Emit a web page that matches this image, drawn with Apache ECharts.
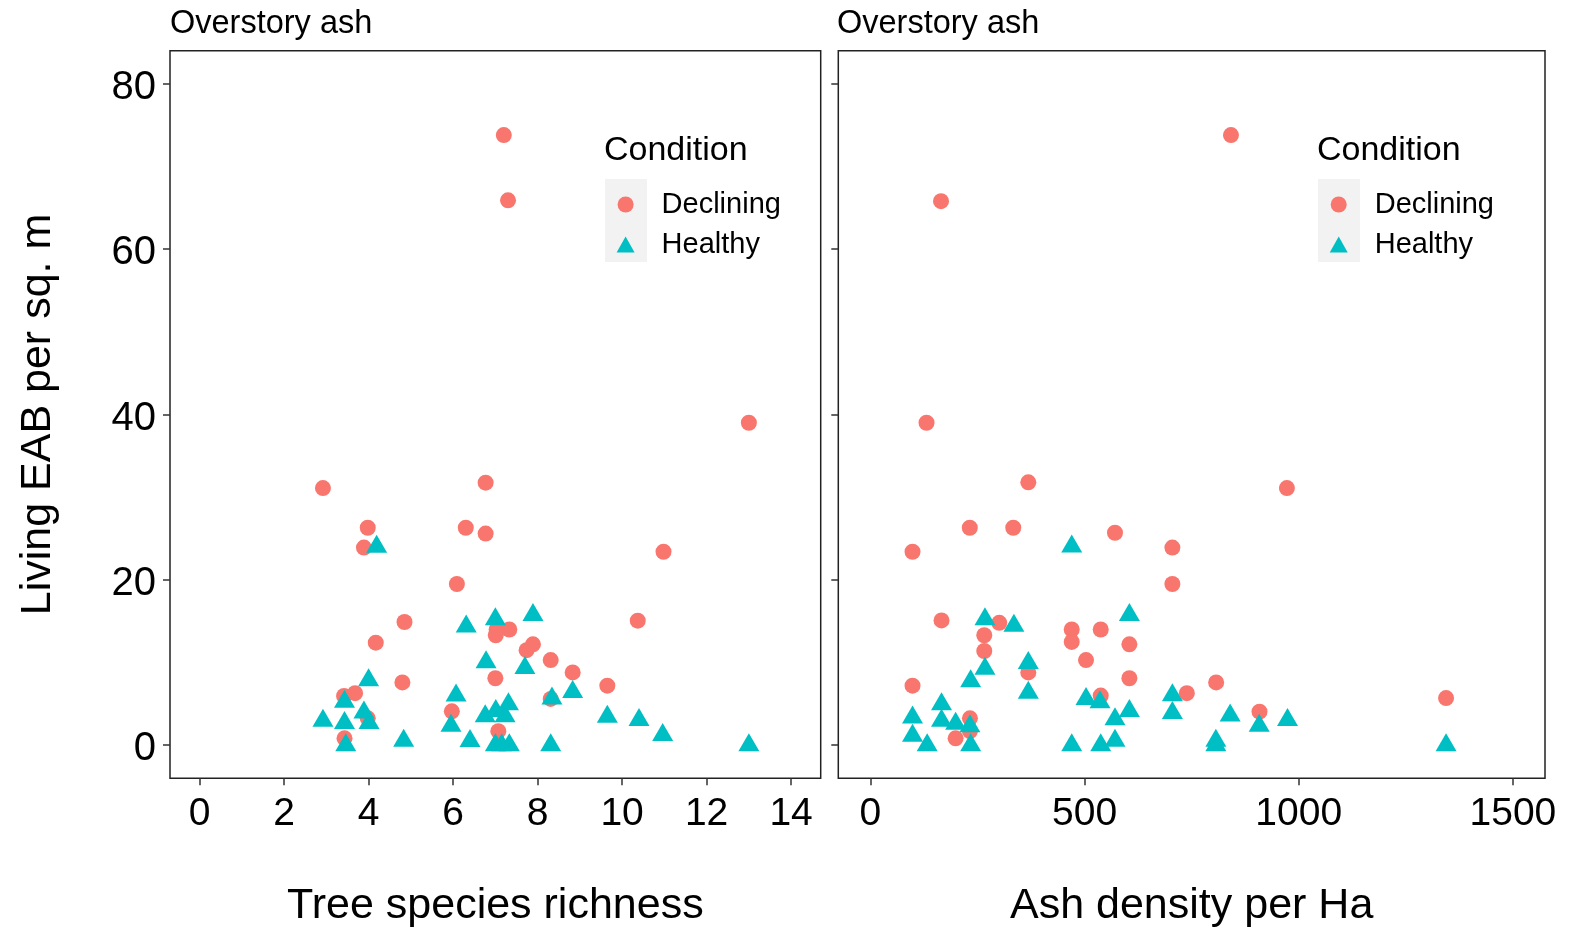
<!DOCTYPE html>
<html>
<head>
<meta charset="utf-8">
<script src="https://cdn.jsdelivr.net/npm/echarts@6/dist/echarts.min.js"></script>
<style>html,body{margin:0;padding:0;background:#fff;}#c{width:1570px;height:929px;}</style>
</head>
<body>
<div id="c"></div>
<script>
// ---- Data (x, y) ----
const richnessDeclining = [[7.2,73.8],[7.3,65.9],[13.0,39.0],[2.92,31.1],[6.77,31.75],[3.98,26.3],[6.3,26.3],[6.77,25.6],[3.89,23.9],[10.98,23.4],[6.09,19.5],[10.37,15.06],[4.85,14.9],[7.33,14.0],[7.03,14.0],[7.01,13.3],[4.17,12.4],[7.89,12.2],[7.74,11.5],[8.31,10.3],[8.83,8.8],[7.0,8.1],[4.8,7.6],[9.65,7.2],[3.68,6.3],[3.42,5.95],[8.31,5.6],[5.97,4.1],[3.98,3.25],[7.07,1.7],[3.43,0.83]];
const richnessHealthy = [[4.19,24.0],[4.0,7.85],[3.43,5.25],[2.92,2.95],[3.43,2.7],[3.89,3.95],[4.01,2.7],[3.46,0],[4.83,0.55],[6.31,14.35],[6.78,10.05],[6.07,6.0],[5.95,2.35],[6.4,0.5],[7.0,15.25],[7.89,15.75],[7.7,9.35],[8.34,5.65],[8.83,6.45],[9.65,3.45],[10.4,3.05],[10.96,1.25],[13.0,0],[6.76,3.5],[7.01,4.15],[7.31,4.95],[7.23,3.5],[7.0,0],[7.33,0],[8.31,0],[7.15,0]];
const densityDeclining = [[841.8,73.8],[164.8,65.8],[131,39.0],[368.6,31.8],[972.4,31.1],[232,26.3],[333.5,26.3],[571,25.7],[705,23.9],[98.3,23.4],[705,19.5],[166,15.1],[300.8,14.8],[470,14.0],[537.7,14.0],[265.8,13.3],[470,12.5],[604.6,12.2],[265.8,11.4],[503.4,10.3],[368.6,8.8],[604.6,8.1],[807.2,7.6],[98.3,7.2],[738.7,6.3],[537.7,6.0],[1344,5.7],[908.4,4.06],[232.3,3.25],[232.3,1.7],[198.9,0.83]];
const densityHealthy = [[470,24.05],[604.6,15.75],[267.4,15.25],[335,14.45],[368.6,9.95],[267.4,9.25],[234,7.75],[368.6,6.35],[166,4.95],[503.4,5.6],[536,5.2],[604.6,4.15],[571,3.15],[98.3,3.35],[166,2.95],[198.9,2.6],[232.3,2.3],[98.3,1.15],[132.5,0],[234,0],[470,0],[537.7,0],[571,0.55],[705,6.05],[705,3.9],[839.9,3.6],[907.7,2.35],[973.8,3.05],[806.5,0.55],[806.5,0],[1344,0]];
const conditions = ['Declining', 'Healthy'];
const panelTitles = ['Overstory ash', 'Overstory ash'];
const xTitles = ['Tree species richness', 'Ash density per Ha'];
const yTitle = 'Living EAB per sq. m';
const legendTitle = 'Condition';
const richnessTicks = [0, 2, 4, 6, 8, 10, 12, 14];
const densityTicks = [0, 500, 1000, 1500];
const eabTicks = [0, 20, 40, 60, 80];
// axis limits (0..14, 0..1500, 0..80 padded by 5% each side)
const richnessRange = [-0.7, 14.7];
const densityRange = [-75, 1575];
const eabRange = [-4, 84];

const FONT = '"Liberation Sans", Arial, Helvetica, sans-serif';
const RED = '#F8766D', TEAL = '#00BFC4';
const plain = v => String(v);
const noLine = {show: false, onZero: false};
function tickCfg(vals) { return {show: true, length: 7, inside: false, customValues: vals, lineStyle: {color: '#333', width: 1.5}}; }

const chart = echarts.init(document.getElementById('c'), null, {renderer: 'canvas'});

function legendCfg(left) {
  return {
    orient: 'vertical', left: left, top: 190, padding: 0,
    itemWidth: 18, itemHeight: 16, itemGap: 11,
    data: conditions,
    formatter: n => '{t|' + n + '}',
    textStyle: {color: '#000', fontFamily: FONT, fontSize: 29,
      rich: {t: {fontSize: 29, lineHeight: 28, fontFamily: FONT, color: '#000', padding: [0, 0, 0, 22]}}}
  };
}
function scatter(name, data, xi, color, symbol, size, offset) {
  return {type: 'scatter', name: name, xAxisIndex: xi, yAxisIndex: xi, data: data,
    symbol: symbol, symbolSize: size, symbolOffset: offset, clip: false,
    itemStyle: {color: color, opacity: 1}, emphasis: {disabled: true}};
}

chart.setOption({
  animation: false,
  backgroundColor: '#fff',
  textStyle: {fontFamily: FONT},
  title: [
    {text: panelTitles[0], left: 170, top: 8, padding: 0, textStyle: {fontSize: 32.5, fontWeight: 'normal', color: '#000', fontFamily: FONT}},
    {text: panelTitles[1], left: 837, top: 8, padding: 0, textStyle: {fontSize: 32.5, fontWeight: 'normal', color: '#000', fontFamily: FONT}},
    {text: legendTitle, left: 604, top: 134, padding: 0, textStyle: {fontSize: 34, fontWeight: 'normal', color: '#000', fontFamily: FONT}},
    {text: legendTitle, left: 1317, top: 134, padding: 0, textStyle: {fontSize: 34, fontWeight: 'normal', color: '#000', fontFamily: FONT}}
  ],
  legend: [legendCfg(616.6), legendCfg(1329.7)],
  graphic: [
    {type: 'rect', left: 605, top: 179, z: 1, shape: {width: 42, height: 83}, style: {fill: '#F2F2F2'}},
    {type: 'rect', left: 1318, top: 179, z: 1, shape: {width: 42, height: 83}, style: {fill: '#F2F2F2'}}
  ],
  grid: [
    {left: 170, top: 50.7, width: 650.7, height: 727.6, show: true, borderColor: '#222', borderWidth: 1.5, backgroundColor: 'transparent', outerBoundsMode: 'none'},
    {left: 838.3, top: 50.7, width: 706.7, height: 727.6, show: true, borderColor: '#222', borderWidth: 1.5, backgroundColor: 'transparent', outerBoundsMode: 'none'}
  ],
  xAxis: [
    {type: 'value', gridIndex: 0, min: richnessRange[0], max: richnessRange[1], position: 'bottom',
      axisLine: noLine, axisTick: tickCfg(richnessTicks), splitLine: {show: false},
      axisLabel: {fontSize: 39, color: '#000', margin: 16, fontFamily: FONT, formatter: plain, customValues: richnessTicks},
      name: xTitles[0], nameLocation: 'middle', nameGap: 106,
      nameTextStyle: {fontSize: 43, color: '#000', fontFamily: FONT}},
    {type: 'value', gridIndex: 1, min: densityRange[0], max: densityRange[1], position: 'bottom',
      axisLine: noLine, axisTick: tickCfg(densityTicks), splitLine: {show: false},
      axisLabel: {fontSize: 39, color: '#000', margin: 16, fontFamily: FONT, formatter: plain, customValues: densityTicks},
      name: xTitles[1], nameLocation: 'middle', nameGap: 106,
      nameTextStyle: {fontSize: 43, color: '#000', fontFamily: FONT}}
  ],
  yAxis: [
    {type: 'value', gridIndex: 0, min: eabRange[0], max: eabRange[1], position: 'left',
      axisLine: noLine, axisTick: tickCfg(eabTicks), splitLine: {show: false},
      axisLabel: {color: '#000', margin: 14, fontFamily: FONT, customValues: eabTicks,
        formatter: v => '{a|' + v + '}',
        rich: {a: {fontSize: 40, color: '#000', fontFamily: FONT, padding: [8, 0, 0, 0]}}},
      name: yTitle, nameLocation: 'middle', nameGap: 110, nameRotate: 90,
      nameTextStyle: {fontSize: 43, color: '#000', fontFamily: FONT}},
    {type: 'value', gridIndex: 1, min: eabRange[0], max: eabRange[1], position: 'left',
      axisLine: noLine, axisTick: tickCfg(eabTicks), splitLine: {show: false},
      axisLabel: {show: false}}
  ],
  series: [
    scatter(conditions[0], richnessDeclining, 0, RED, 'circle', 16, [0, 0]),
    scatter(conditions[1], richnessHealthy, 0, TEAL, 'triangle', [21, 18], [0, -3]),
    scatter(conditions[0], densityDeclining, 1, RED, 'circle', 16, [0, 0]),
    scatter(conditions[1], densityHealthy, 1, TEAL, 'triangle', [21, 18], [0, -3])
  ]
});
</script>
</body>
</html>
